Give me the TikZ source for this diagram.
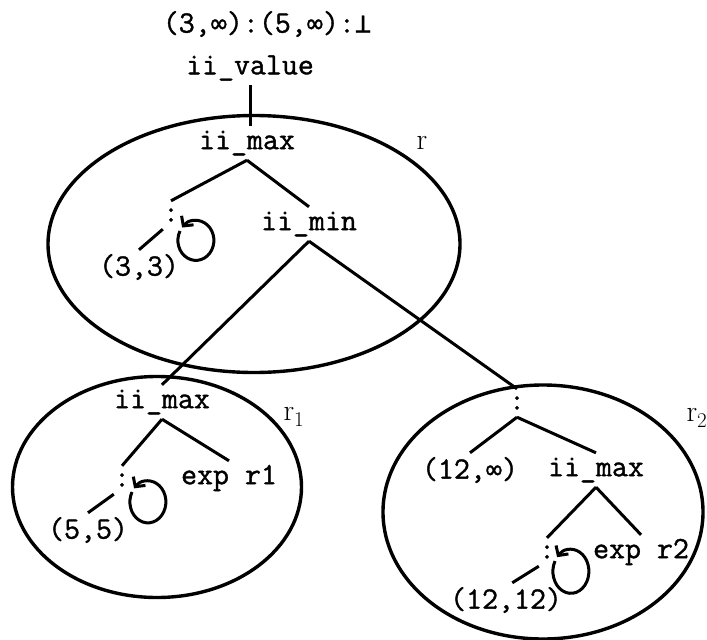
\documentclass[tikz,border=0pt]{standalone}
\usepackage{fontspec}
\setmonofont[FakeBold=1.2]{Latin Modern Mono}
\newfontfamily\symmono[Scale=0.87,FakeBold=0.8]{DejaVu Sans Mono}
\usetikzlibrary{arrows.meta,shapes.geometric}

\begin{document}
\begin{tikzpicture}[x=1pt,y=-1pt,
  lbl/.style={font=\ttfamily\fontsize{31}{34}\selectfont, inner sep=0pt, minimum height=34pt},
  colon/.style={lbl, minimum height=28pt},
  rname/.style={font=\fontsize{30}{32}\selectfont, inner sep=0pt},
  region/.style={ellipse, draw, line width=3.4pt, inner sep=0pt},
  branch/.style={line width=3pt},
  selfloop/.style={line width=3pt, -{Straight Barb[length=7pt,width=15pt]}}]
  \useasboundingbox (0,0) rectangle (707,640);

  % Regionen
  \node[region, minimum width=412pt, minimum height=257pt] (regR) at (254,244) {};
  \node[region, minimum width=289pt, minimum height=221pt] (regRone) at (157,487) {};
  \node[region, minimum width=320pt, minimum height=254pt] (regRtwo) at (543,512) {};
  \node[rname] (nameR) at (422,143) {r};
  \node[rname] (nameRone) at (294,417) {r\textsubscript{1}};
  \node[rname] (nameRtwo) at (697,418) {r\textsubscript{2}};

  % Ergebnis und Wurzel
  \node[lbl] (result) at (267,24) {(3,{\symmono ∞}):(5,{\symmono ∞}):{\symmono ⊥}};
  \node[lbl] (value) at (250,68) {ii\_value};

  % Region r
  \node[lbl] (maxR) at (247,143) {ii\_max};
  \node[colon] (consR) at (171,215) {:};
  \node[lbl] (minR) at (309,224) {ii\_min};
  \node[lbl] (pairR) at (139,267) {(3,3)};

  % Region r1
  \node[lbl] (maxRone) at (162,402) {ii\_max};
  \node[colon] (consRone) at (122,480) {:};
  \node[lbl] (expRone) at (229,478) {exp r1};
  \node[lbl] (pairRone) at (88,530) {(5,5)};

  % Region r2
  \node[colon] (consRtwo) at (517,403) {:};
  \node[lbl] (pairRtwo) at (470,470) {(12,{\symmono ∞})};
  \node[lbl] (maxRtwo) at (596,470) {ii\_max};
  \node[colon] (consRtwoB) at (547,552) {:};
  \node[lbl] (expRtwo) at (641,552) {exp r2};
  \node[lbl] (pairRtwoB) at (506,600) {(12,12)};

  % Kanten
  \draw[branch] (value.south) -- (value.south |- maxR.north);
  \draw[branch] (maxR.south) -- (consR.north);
  \draw[branch] (maxR.south) -- (minR.north);
  \draw[branch] (consR.south west) -- (pairR.north);
  \draw[branch] (minR.south) -- (maxRone.north);
  \draw[branch] (minR.south) -- (consRtwo.north);
  \draw[branch] (maxRone.south) -- (consRone.north);
  \draw[branch] (maxRone.south) -- (expRone.north);
  \draw[branch] (consRone.south west) -- (pairRone.north);
  \draw[branch] (consRtwo.south) -- (pairRtwo.north);
  \draw[branch] (consRtwo.south) -- (maxRtwo.north);
  \draw[branch] (maxRtwo.south) -- (consRtwoB.north);
  \draw[branch] (maxRtwo.south) -- (expRtwo.north);
  \draw[branch] (consRtwoB.south west) -- (pairRtwoB.70);

  % Schleifen
  \draw[selfloop] (consR) ++(9,16) arc[start angle=208, end angle=-140, x radius=18, y radius=20];
  \draw[selfloop] (consRone) ++(10,12) arc[start angle=208, end angle=-140, x radius=18, y radius=21];
  \draw[selfloop] (consRtwoB) ++(8,9) arc[start angle=208, end angle=-140, x radius=18, y radius=22];
\end{tikzpicture}
\end{document}
